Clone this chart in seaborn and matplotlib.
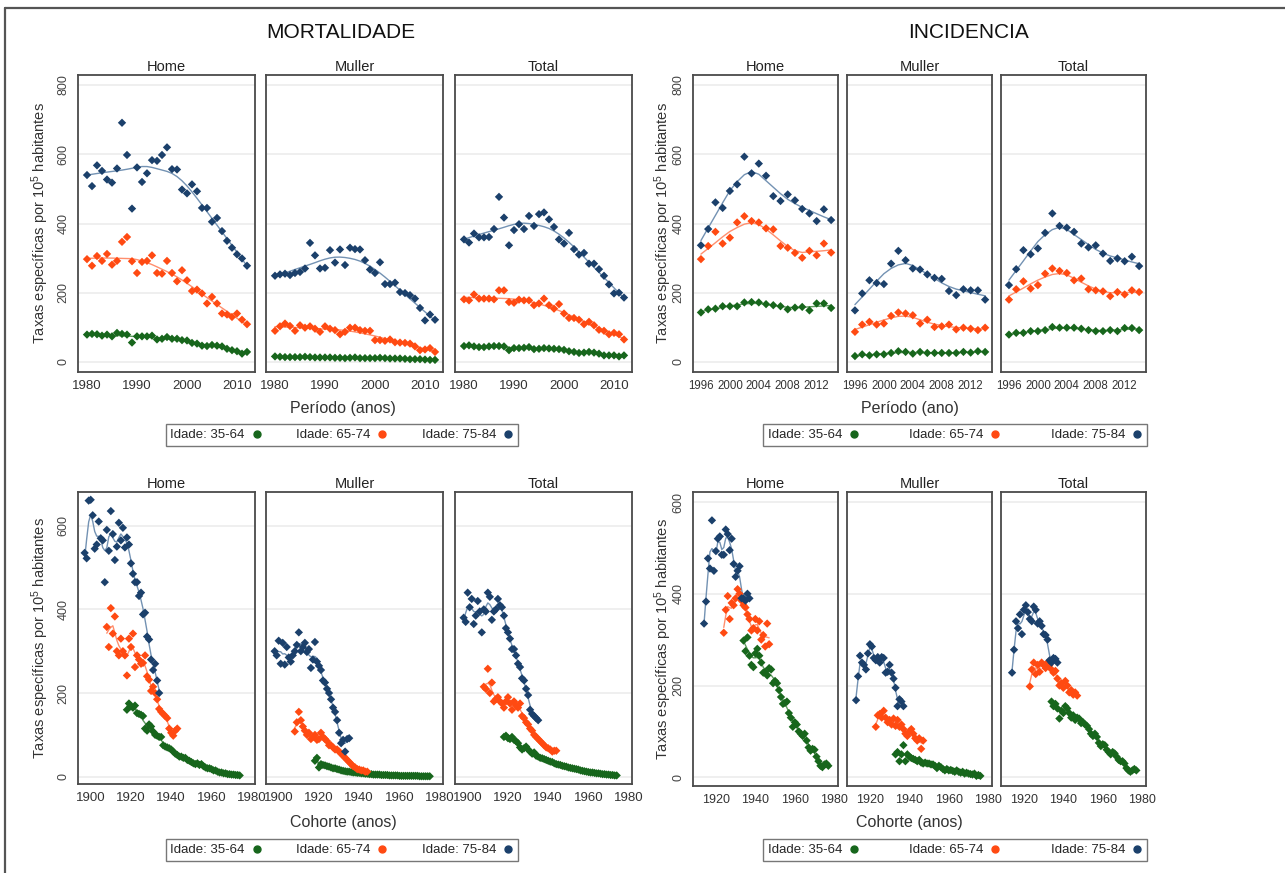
import numpy as np
import pandas as pd
import matplotlib
matplotlib.use('Agg')
import matplotlib.pyplot as plt
import seaborn as sns
from matplotlib.lines import Line2D

sns.set_style('white')
plt.rcParams['font.family'] = ['Liberation Sans', 'DejaVu Sans']
plt.rcParams['mathtext.fontset'] = 'custom'
plt.rcParams['mathtext.rm'] = 'Liberation Sans'
plt.rcParams['mathtext.it'] = 'Liberation Sans:italic'

#%% Data
sexes = ['Home', 'Muller', 'Total']
ages = ['Idade: 35-64', 'Idade: 65-74', 'Idade: 75-84']

# Mortality by period, 1980-2012
mort_years = list(range(1980, 2013))
mort_home_7584 = [540, 508, 568, 552, 527, 518, 559, 691, 598, 443, 562, 520, 545, 583, 581, 598, 620,
                  557, 556, 498, 487, 513, 493, 445, 445, 405, 416, 378, 350, 330, 311, 299, 278]
mort_home_6574 = [297, 278, 306, 292, 312, 281, 292, 347, 361, 291, 257, 289, 292, 308, 257, 255, 292,
                  257, 233, 265, 236, 205, 209, 198, 169, 188, 169, 140, 137, 130, 140, 122, 109]
mort_home_3564 = [79, 81, 80, 76, 79, 74, 84, 81, 79, 56, 74, 74, 74, 76, 65, 67, 72,
                  67, 67, 63, 62, 55, 53, 47, 46, 49, 47, 45, 38, 34, 31, 24, 29]
mort_muller_7584 = [249, 253, 255, 251, 257, 260, 270, 344, 308, 270, 272, 323, 287, 325, 280, 330, 326,
                    325, 294, 267, 257, 288, 225, 225, 229, 202, 199, 193, 183, 156, 120, 137, 122]
mort_muller_6574 = [90, 103, 111, 104, 90, 106, 99, 103, 96, 87, 103, 96, 92, 80, 87, 99, 99,
                    92, 90, 90, 63, 63, 61, 65, 57, 56, 55, 53, 45, 34, 36, 40, 29]
mort_muller_3564 = [16, 15, 14, 14, 14, 14, 15, 14, 13, 13, 13, 13, 12, 12, 11, 12, 13,
                    11, 11, 11, 11, 12, 11, 10, 10, 10, 9, 8, 8, 8, 7, 6, 6]
mort_total_7584 = [354, 345, 371, 360, 360, 361, 384, 477, 417, 337, 381, 398, 384, 422, 393, 427, 432,
                   412, 390, 354, 342, 373, 326, 310, 315, 284, 284, 268, 249, 224, 198, 200, 186]
mort_total_6574 = [181, 178, 195, 183, 183, 183, 181, 207, 207, 173, 171, 180, 178, 178, 164, 169, 183,
                   164, 154, 167, 140, 127, 127, 122, 109, 116, 106, 93, 90, 80, 84, 80, 65]
mort_total_3564 = [46, 48, 45, 43, 43, 45, 46, 46, 45, 34, 40, 40, 41, 43, 37, 38, 40,
                   39, 38, 37, 35, 31, 29, 26, 27, 29, 27, 24, 19, 19, 19, 16, 19]

# Incidence by period, 1996-2014
inc_years = list(range(1996, 2015))
inc_home_7584 = [337, 384, 461, 445, 494, 513, 593, 545, 573, 538, 479, 465, 484, 467, 442, 429, 407, 441, 410]
inc_home_6574 = [297, 335, 376, 342, 359, 403, 421, 407, 403, 386, 383, 335, 330, 315, 301, 321, 308, 342, 316]
inc_home_3564 = [143, 152, 154, 161, 161, 161, 172, 173, 172, 167, 164, 161, 152, 157, 159, 149, 169, 169, 156]
inc_muller_7584 = [149, 198, 236, 228, 225, 284, 321, 294, 270, 267, 253, 243, 240, 205, 193, 210, 207, 207, 180]
inc_muller_6574 = [87, 108, 116, 108, 111, 133, 143, 140, 135, 111, 122, 101, 103, 108, 94, 99, 96, 92, 99]
inc_muller_3564 = [17, 22, 19, 22, 22, 26, 31, 29, 24, 29, 26, 26, 26, 26, 26, 29, 27, 31, 29]
inc_total_7584 = [222, 268, 323, 311, 328, 373, 429, 393, 388, 376, 342, 331, 337, 313, 292, 299, 291, 304, 277]
inc_total_6574 = [180, 210, 233, 212, 222, 255, 270, 263, 257, 236, 241, 210, 207, 204, 190, 202, 195, 207, 202]
inc_total_3564 = [79, 84, 84, 89, 89, 92, 101, 99, 99, 99, 96, 92, 89, 89, 92, 89, 98, 98, 92]

# Mortality by birth cohort (first cohort year, then one value per year)
mc_home_7584 = (1897, [535, 522, 660, 662, 625, 545, 555, 610, 570, 565, 465, 590, 540, 635, 580, 518, 550, 607,
                       565, 595, 548, 572, 555, 510, 485, 465, 465, 432, 440, 388, 392, 335, 328, 280, 255, 270, 230, 200])
mc_home_6574 = (1908, [358, 310, 403, 342, 383, 300, 290, 330, 300, 290, 242, 330, 310, 342, 262, 290, 280, 270,
                       272, 290, 240, 232, 205, 215, 200, 185, 162, 155, 150, 145, 140, 115, 105, 98, 110, 115])
mc_home_3564 = (1918, [160, 175, 168, 165, 170, 152, 150, 148, 145, 115, 110, 125, 120, 108, 100, 98, 95, 95, 75,
                       72, 70, 68, 65, 60, 55, 52, 48, 48, 45, 45, 40, 38, 35, 32, 30, 32, 28, 30, 25, 22, 20, 20,
                       18, 15, 15, 12, 10, 10, 8, 8, 6, 6, 5, 5, 4, 4, 3])
mc_muller_7584 = (1898, [300, 290, 325, 270, 320, 268, 310, 285, 275, 290, 300, 315, 345, 300, 310, 320, 298, 305,
                         260, 280, 322, 275, 265, 255, 230, 225, 210, 200, 185, 165, 155, 135, 105, 80, 88, 60, 90, 92])
mc_muller_6574 = (1908, [108, 130, 155, 135, 120, 110, 100, 105, 90, 95, 100, 88, 90, 105, 95, 90, 85, 75, 75,
                         70, 65, 65, 60, 55, 50, 45, 40, 35, 30, 25, 22, 18, 17, 15, 15, 12, 12])
mc_muller_3564 = (1918, [38, 45, 22, 30, 28, 27, 25, 24, 22, 20, 20, 18, 17, 15, 14, 13, 12, 12, 11, 10, 10, 9, 9,
                         8, 8, 7, 7, 6, 6, 5, 5, 5, 5, 4, 4, 4, 4, 3, 3, 3, 3, 3, 2, 2, 2, 2, 2, 2, 2, 2, 2, 2,
                         1, 1, 1, 1, 1, 1])
mc_total_7584 = (1898, [380, 370, 440, 405, 425, 365, 385, 420, 395, 345, 400, 395, 440, 430, 375, 395, 400, 425,
                        410, 405, 385, 355, 345, 330, 305, 305, 290, 270, 262, 235, 230, 210, 195, 160, 150, 145, 140, 135])
mc_total_6574 = (1908, [215, 210, 258, 200, 225, 180, 185, 190, 180, 175, 165, 180, 190, 175, 160, 180, 170, 165,
                        175, 145, 140, 130, 125, 115, 110, 100, 95, 90, 85, 80, 75, 70, 68, 65, 60, 62, 62])
mc_total_3564 = (1918, [95, 98, 92, 90, 95, 88, 85, 80, 70, 65, 68, 72, 65, 60, 55, 58, 50, 48, 45, 44, 42, 40, 38,
                        36, 35, 32, 30, 29, 28, 26, 25, 24, 22, 21, 20, 19, 18, 17, 15, 14, 13, 12, 11, 10, 10, 9,
                        8, 8, 7, 6, 6, 5, 5, 4, 4, 3, 3])

# Incidence by birth cohort
ic_home_7584 = (1914, [335, 383, 477, 455, 560, 450, 493, 520, 525, 485, 485, 540, 530, 495, 520, 465, 437, 450,
                       460, 390, 390, 385, 400, 390])
ic_home_6574 = (1924, [315, 365, 395, 345, 380, 375, 390, 410, 400, 385, 375, 370, 355, 345, 320, 325, 345, 320,
                       340, 300, 310, 285, 335, 290])
ic_home_3564 = (1934, [298, 275, 305, 265, 245, 240, 270, 280, 265, 250, 228, 230, 222, 238, 235, 205, 210, 205,
                       190, 175, 160, 162, 165, 140, 130, 110, 120, 115, 100, 95, 90, 95, 80, 65, 58, 62, 60, 45,
                       35, 25, 22, 28, 30, 25])
ic_muller_7584 = (1913, [168, 220, 265, 250, 245, 235, 270, 290, 285, 260, 255, 262, 250, 262, 260, 228, 230, 245,
                         228, 215, 195, 155, 170, 165, 155])
ic_muller_6574 = (1923, [110, 135, 138, 130, 145, 130, 120, 125, 115, 128, 112, 125, 110, 115, 105, 95, 90, 100,
                         105, 95, 85, 80, 85, 62, 80])
ic_muller_3564 = (1933, [50, 55, 35, 50, 70, 35, 50, 45, 42, 40, 38, 35, 38, 32, 30, 32, 30, 30, 28, 28, 25, 20,
                         25, 22, 18, 15, 18, 15, 16, 14, 12, 15, 12, 10, 12, 8, 10, 8, 7, 6, 8, 3, 5, 3])
ic_total_7584 = (1914, [228, 278, 340, 325, 355, 312, 365, 375, 360, 345, 340, 372, 365, 335, 340, 330, 312, 310,
                        300, 255, 250, 260, 258, 250])
ic_total_6574 = (1923, [198, 235, 250, 225, 245, 230, 250, 245, 238, 250, 245, 235, 228, 232, 215, 200, 205, 195,
                        210, 200, 185, 190, 180, 185, 178])
ic_total_3564 = (1934, [165, 155, 160, 150, 128, 145, 140, 155, 150, 140, 130, 135, 125, 130, 128, 118, 120, 115,
                        112, 105, 95, 90, 95, 88, 75, 68, 72, 70, 60, 55, 50, 55, 52, 45, 38, 35, 35, 30, 20, 15,
                        12, 15, 18, 15])

dot_colors = ['#17661c', '#ff4a12', '#1b406b']
line_colors = ['#5e9a5e', '#ff8f6e', '#7392b3']


#%% Helpers
def lowess(x, y, frac):
    # simple local linear smoother with tricube weights
    x = np.asarray(x, float)
    y = np.asarray(y, float)
    k = max(3, int(np.ceil(frac * len(x))))
    fit = np.empty(len(x))
    for i in range(len(x)):
        d = np.abs(x - x[i])
        h = max(np.sort(d)[k - 1], 1e-9) * 1.0001
        w = np.clip(1 - (d / h) ** 3, 0, None) ** 3
        xm = (w * x).sum() / w.sum()
        ym = (w * y).sum() / w.sum()
        b = (w * (x - xm) * (y - ym)).sum() / max((w * (x - xm) ** 2).sum(), 1e-9)
        fit[i] = ym + b * (x[i] - xm)
    return fit


def period_frame(years, series, frac):
    rows = []
    for sex, trio in zip(sexes, series):
        for age, vals in zip(ages, trio):
            df = pd.DataFrame({'x': years, 'rate': vals, 'sex': sex, 'age': age})
            df['fit'] = lowess(df['x'], df['rate'], frac)
            rows.append(df)
    return pd.concat(rows, ignore_index=True)


def cohort_frame(series, frac):
    rows = []
    for sex, trio in zip(sexes, series):
        for age, (start, vals) in zip(ages, trio):
            df = pd.DataFrame({'x': np.arange(start, start + len(vals)), 'rate': vals, 'sex': sex, 'age': age})
            df['fit'] = lowess(df['x'], df['rate'], frac)
            rows.append(df)
    return pd.concat(rows, ignore_index=True)


mort_period = period_frame(mort_years, [(mort_home_3564, mort_home_6574, mort_home_7584),
                                        (mort_muller_3564, mort_muller_6574, mort_muller_7584),
                                        (mort_total_3564, mort_total_6574, mort_total_7584)], 0.55)
inc_period = period_frame(inc_years, [(inc_home_3564, inc_home_6574, inc_home_7584),
                                      (inc_muller_3564, inc_muller_6574, inc_muller_7584),
                                      (inc_total_3564, inc_total_6574, inc_total_7584)], 0.45)
mort_cohort = cohort_frame([(mc_home_3564, mc_home_6574, mc_home_7584),
                            (mc_muller_3564, mc_muller_6574, mc_muller_7584),
                            (mc_total_3564, mc_total_6574, mc_total_7584)], 0.15)
inc_cohort = cohort_frame([(ic_home_3564, ic_home_6574, ic_home_7584),
                           (ic_muller_3564, ic_muller_6574, ic_muller_7584),
                           (ic_total_3564, ic_total_6574, ic_total_7584)], 0.2)

#%% Figure
W, H = 1285, 873
fig = plt.figure(figsize=(W / 100, H / 100), dpi=100)


def px_axes(x0, y0, x1, y1):
    return fig.add_axes([x0 / W, 1 - y1 / H, (x1 - x0) / W, (y1 - y0) / H])


def draw_group(data, lefts, width, top, bottom, xlim, ylim, xticks, yticks, xlabel, xlabel_pos, ylab_x,
               legend_pos, tick_size, col_space):
    for i, (sex, left) in enumerate(zip(sexes, lefts)):
        ax = px_axes(left, top, left + width, bottom)
        sub = data[data['sex'] == sex]
        for yt in yticks:
            ax.axhline(yt, color='#ececec', lw=1.2, zorder=0)
        sns.lineplot(data=sub, x='x', y='fit', hue='age', palette=line_colors, hue_order=ages,
                     lw=1.0, legend=False, ax=ax, zorder=2)
        sns.scatterplot(data=sub, x='x', y='rate', hue='age', palette=dot_colors, hue_order=ages,
                        marker='D', s=18, linewidth=0, legend=False, ax=ax, zorder=3)
        ax.set_xlim(xlim)
        ax.set_ylim(ylim)
        ax.set_xticks(xticks)
        ax.set_yticks(yticks)
        ax.set_xlabel('')
        ax.set_ylabel('')
        ax.set_title(sex, fontsize=10.5, pad=3, color='#222')
        for sp in ax.spines.values():
            sp.set_color('#4a4a4a')
            sp.set_linewidth(1.3)
        ax.tick_params(axis='x', length=4, color='#555', labelsize=tick_size, labelcolor='#333', pad=2)
        if i == 0:
            ax.tick_params(axis='y', length=4, color='#555', labelsize=9, labelcolor='#444', pad=2)
            for lab in ax.get_yticklabels():
                lab.set_rotation(90)
                lab.set_va('center')
        else:
            ax.tick_params(axis='y', length=0, labelleft=False)
    fig.text(ylab_x / W, 1 - (top + bottom) / 2 / H, r'Taxas específicas por 10$^{5}$ habitantes',
             rotation=90, ha='center', va='center', fontsize=10.5, color='#333')
    fig.text(xlabel_pos[0] / W, 1 - xlabel_pos[1] / H, xlabel, ha='center', va='center', fontsize=11.5,
             color='#333')
    handles = [Line2D([], [], marker='o', ls='', color=c, markersize=5) for c in dot_colors]
    fig.legend(handles, ages, ncol=3, markerfirst=False, loc='center',
               bbox_to_anchor=(legend_pos[0] / W, 1 - legend_pos[1] / H), frameon=True, fancybox=False,
               edgecolor='#555', fontsize=9.5, handlelength=0.8, handletextpad=0.5, columnspacing=col_space,
               borderpad=0.35)


top_lefts = [78, 266, 455]
right_lefts = [693, 847, 1001]

draw_group(mort_period, top_lefts, 177, 75, 372, (1978.2, 2013.6), (-29, 829),
           [1980, 1990, 2000, 2010], [0, 200, 400, 600, 800], 'Período (anos)', (343, 408), 40, (342, 435),
           9.5, 2.6)
draw_group(inc_period, right_lefts, 145, 75, 372, (1994.9, 2014.95), (-29, 829),
           [1996, 2000, 2004, 2008, 2012], [0, 200, 400, 600, 800], 'Período (ano)', (910, 408), 663, (955, 435),
           8.3, 3.8)
draw_group(mort_cohort, top_lefts, 177, 492, 784, (1893.7, 1981.6), (-17.5, 680.6),
           [1900, 1920, 1940, 1960, 1980], [0, 200, 400, 600], 'Cohorte (anos)', (343, 823), 40, (342, 850),
           9.5, 2.6)
draw_group(inc_cohort, right_lefts, 145, 492, 786, (1908.4, 1981.9), (-19, 621.8),
           [1920, 1940, 1960, 1980], [0, 200, 400, 600], 'Cohorte (anos)', (909, 823), 663, (955, 850),
           9.0, 3.8)

fig.text(341 / W, 1 - 33 / H, 'MORTALIDADE', ha='center', va='center', fontsize=15, color='#111')
fig.text(968 / W, 1 - 33 / H, 'INCIDENCIA', ha='center', va='center', fontsize=15, color='#111')

# outer frame of the original screenshot
fig.add_artist(Line2D([5 / W, 5 / W], [0, 1 - 8 / H], transform=fig.transFigure, color='#555', lw=1.6))
fig.add_artist(Line2D([5 / W, 1], [1 - 8 / H, 1 - 8 / H], transform=fig.transFigure, color='#555', lw=1.6))

fig.savefig('out.png', dpi=100)
